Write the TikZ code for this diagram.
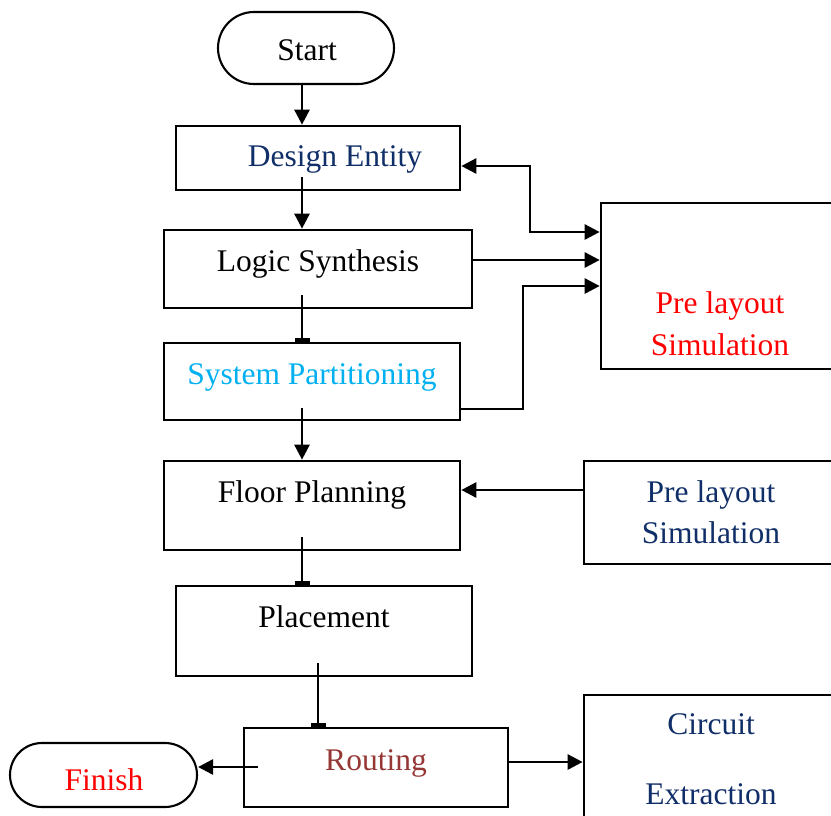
\documentclass[tikz,border=0pt]{standalone}
\usepackage{fontspec}
\setmainfont{Liberation Serif}
\usetikzlibrary{arrows.meta}
\definecolor{navy}{HTML}{102E68}
\definecolor{skyblue}{HTML}{00B0F0}
\definecolor{brick}{HTML}{953735}
\definecolor{brightred}{HTML}{FF0000}
\begin{document}
\begin{tikzpicture}[x=1pt,y=-1pt,
  box/.style={draw, rectangle, line width=2.7pt, inner sep=0pt},
  term/.style={draw, rectangle, rounded corners=#1, line width=2.1pt, inner sep=0pt},
  txt/.style={anchor=base, inner sep=0pt, font=\fontsize{31.5}{38}\selectfont},
  arr/.style={line width=2.7pt, -{Triangle[length=15pt,width=15pt]}},
  dblarr/.style={line width=2.7pt, {Triangle[length=15pt,width=15pt]}-{Triangle[length=15pt,width=15pt]}},
  tbar/.style={line width=2.7pt, -{Rectangle[length=3.5pt,width=15pt]}}]
\useasboundingbox (0,0) rectangle (831,815);
\clip (0,0) rectangle (831,815);

% blocks of the flow
\node[term=36pt, minimum width=176pt, minimum height=72pt] (start) at (306,48) {};
\node[box, minimum width=284pt, minimum height=64pt] (de) at (318,158) {};
\node[box, minimum width=308pt, minimum height=78pt] (ls) at (318,269) {};
\node[box, minimum width=296pt, minimum height=77pt] (sp) at (312,381.5) {};
\node[box, minimum width=296pt, minimum height=89pt] (fp) at (312,505.5) {};
\node[box, minimum width=296pt, minimum height=90pt] (pl) at (324,631) {};
\node[box, minimum width=264pt, minimum height=79pt] (rt) at (376,767.5) {};
\node[term=32pt, minimum width=187pt, minimum height=64pt] (fn) at (103.5,775) {};
\node[box, minimum width=259pt, minimum height=166pt] (ps1) at (730.5,286) {};
\node[box, minimum width=276pt, minimum height=103pt] (ps2) at (722,512.5) {};
\node[box, minimum width=276pt, minimum height=155pt] (ce) at (722,772.5) {};

% labels
\node[txt] (tstart) at (307,60) {Start};
\node[txt, text=navy] (tde) at (335,166) {Design Entity};
\node[txt] (tls) at (318,271) {Logic Synthesis};
\node[txt, text=skyblue] (tsp) at (312,384) {System Partitioning};
\node[txt] (tfp) at (312,502) {Floor Planning};
\node[txt] (tpl) at (324,627) {Placement};
\node[txt, text=brick] (trt) at (376,770) {Routing};
\node[txt, text=brightred] (tfn) at (104,790) {Finish};
\node[txt, text=brightred] (tps1a) at (720,313) {Pre layout};
\node[txt, text=brightred] (tps1b) at (720,355) {Simulation};
\node[txt, text=navy] (tps2a) at (711,502) {Pre layout};
\node[txt, text=navy] (tps2b) at (711,543) {Simulation};
\node[txt, text=navy] (tcea) at (711,734) {Circuit};
\node[txt, text=navy] (tceb) at (711,804) {Extraction};

% connector corners and starting points
\coordinate (s0) at (302,84);
\coordinate (s1) at (302,177);
\coordinate (s2) at (302,295);
\coordinate (s3) at (302,408);
\coordinate (s4) at (302,537);
\coordinate (s5) at (318,663);
\coordinate (c1) at (530,166);
\coordinate (c1b) at (530,232);
\coordinate (c2) at (472,260);
\coordinate (c3) at (523,286);
\coordinate (c4) at (523,409);
\coordinate (c5) at (584,490);
\coordinate (c6) at (508,762);
\coordinate (c7) at (258,767);

% main flow
\draw[arr] (s0) -- (s0 |- de.north);
\draw[arr] (s1) -- (s1 |- ls.north);
\draw[tbar] (s2) -- (s2 |- sp.north);
\draw[arr] (s3) -- (s3 |- fp.north);
\draw[tbar] (s4) -- (s4 |- pl.north);
\draw[tbar] (s5) -- (s5 |- rt.north);

% side connections
\draw[dblarr] (de.east |- c1) -- (c1) -- (c1b) -- (ps1.west |- c1b);
\draw[arr] (c2) -- (c2 -| ps1.west);
\draw[arr] (sp.east |- c4) -- (c4) -- (c3) -- (c3 -| ps1.west);
\draw[arr] (ps2.west |- c5) -- (c5 -| fp.east);
\draw[arr] (c6) -- (c6 -| ce.west);
\draw[arr] (c7) -- (c7 -| fn.east);
\end{tikzpicture}
\end{document}
